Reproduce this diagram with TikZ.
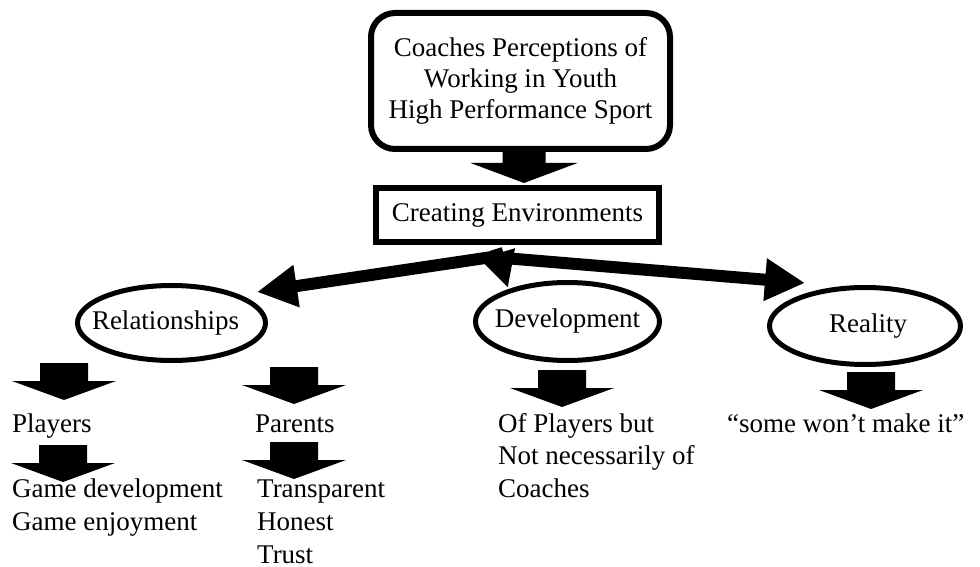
\documentclass[tikz,border=0pt]{standalone}
\usepackage{fontspec}
\setmainfont{Liberation Serif}
\usetikzlibrary{arrows.meta,shapes.geometric}
\begin{document}
\begin{tikzpicture}[x=1pt,y=-1pt,
  every node/.style={font=\fontsize{27}{31}\selectfont, inner sep=0pt},
  txt/.style={anchor=base west},
  topic/.style={draw, ellipse, line width=5pt},
  bigarrow/.style={line width=12pt, line cap=round, -{Triangle[length=40pt,width=40pt]}},
  downblock/.pic={\fill (-24,0) -- (24,0) -- (24,18) -- (52,18) -- (0,37) -- (-52,18) -- (-24,18) -- cycle;},
  topblock/.pic={\fill (-21.5,0) -- (21.5,0) -- (21.5,13) -- (53.5,13) -- (0,33) -- (-53.5,13) -- (-21.5,13) -- cycle;}
]
\useasboundingbox (0,0) rectangle (980,567);

% title and main theme
\node[draw, line width=6pt, rounded corners=24pt, minimum width=299pt, minimum height=136pt, align=center]
  (title) at (520.5,81) {Coaches Perceptions of\\Working in Youth\\High Performance Sport};
\pic at (524,150) {topblock};
\node[draw, line width=6pt, minimum width=283pt, minimum height=54pt]
  (env) at (517.5,215) {Creating Environments};

% sub-themes
\node[topic, minimum width=188pt, minimum height=75pt, label={[xshift=-6pt]center:Relationships}] (rel) at (171.5,323) {};
\node[topic, minimum width=184pt, minimum height=78pt, label={center:Development}] (dev) at (567.5,321.5) {};
\node[topic, minimum width=191pt, minimum height=77pt, label={[xshift=3pt]center:Reality}] (rea) at (865,326) {};

% branching arrows
\coordinate (hub) at (492,257);
\coordinate (hubtop) at (496,249);
\coordinate (relin) at (257,292);
\coordinate (devin) at (508,288);
\coordinate (reain) at (805,283);
\draw[bigarrow] (hub) -- (relin);
\draw[bigarrow] (hub) -- (reain);
\draw[line width=12pt, -{Triangle[length=36pt,width=34pt]}] (hubtop) -- (devin);

% block arrows below the sub-themes
\pic at (64,363) {downblock};
\pic at (294,367) {downblock};
\pic at (63,445) {downblock};
\pic at (294,442) {downblock};
\pic at (562,370) {downblock};
\pic at (871,372) {downblock};

% details
\node[txt] (players) at (12,432) {Players};
\node[txt] (parents) at (255,432) {Parents};
\node[txt] (gamedev) at (12,497) {Game development};
\node[txt] (gamejoy) at (12,530) {Game enjoyment};
\node[txt] (transp) at (257,497) {Transparent};
\node[txt] (honest) at (257,530) {Honest};
\node[txt] (trust) at (257,563) {Trust};
\node[txt] (ofpl) at (498,432) {Of Players but};
\node[txt] (notnec) at (498,464) {Not necessarily of};
\node[txt] (coaches) at (498,497) {Coaches};
\node[txt] (some) at (727,432) {“some won’t make it”};
\end{tikzpicture}
\end{document}
